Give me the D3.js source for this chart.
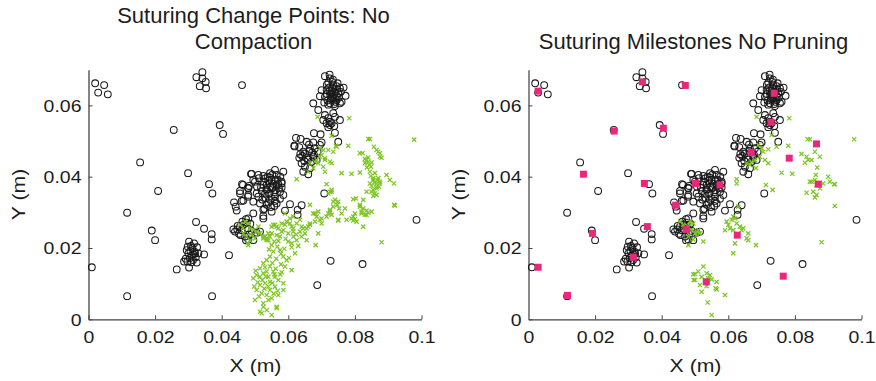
<!DOCTYPE html>
<html>
<head>
<meta charset="utf-8">
<script src="https://cdn.jsdelivr.net/npm/d3@7"></script>
<style>
  body { margin: 0; background: #fff; }
  svg { display: block; }
</style>
</head>
<body>
<svg id="chart" width="876" height="381"></svg>
<script>
// values in millimetres, plotted in metres
const xTicks = [0, 0.02, 0.04, 0.06, 0.08, 0.1];
const xTickLabels = ["0", "0.02", "0.04", "0.06", "0.08", "0.1"];
const yTicks = [0, 0.02, 0.04, 0.06];
const yTickLabels = ["0", "0.02", "0.04", "0.06"];

const leftTitle = ["Suturing Change Points: No", "Compaction"];
const rightTitle = ["Suturing Milestones No Pruning"];

// black circles (same in both panels)
const circlePts = [
  [2.0,66.2],[4.7,65.7],[2.9,63.6],[5.8,63.1],
  [34.2,69.3],[32.4,67.9],[34.2,67.6],[35.2,66.6],[33.4,65.4],[35.3,64.8],
  [46.1,65.7],[25.6,53.1],[39.4,54.5],[40.4,52.0],[15.5,44.0],[29.9,41.0],[36.2,37.9],[20.9,36.0],[37.2,35.3],
  [11.6,29.9],[19.0,24.9],[20.0,22.2],[32.3,27.3],[34.7,25.4],[37.0,23.9],[37.0,22.4],[34.7,18.2],[42.2,18.0],
  [1.0,14.6],[11.6,6.5],[37.1,6.5],[70.8,35.3],[98.5,27.9],[72.7,16.4],[82.3,15.5],[68.7,9.6],
  [60.5,32.3],[64.0,32.0],[59.0,30.5],[62.8,30.7],[62.8,29.3],
  [43.7,32.8],[44.2,31.6],[44.5,30.5],[46.0,33.2],[47.9,34.4],[45.5,36.0],[46.1,37.9],[47.9,36.9],[48.8,40.8],
  // cluster near (0.031, 0.018)
  [30.2,21.8],[31.7,21.3],[29.8,20.4],[31.2,20.0],[30.6,19.2],[31.8,19.0],[30.0,18.5],[32.0,18.5],[33.0,18.5],
  [31.0,17.8],[30.4,17.2],[32.2,17.4],[29.2,17.0],[31.4,16.6],[28.7,16.2],[29.7,16.2],[32.5,15.9],[30.9,16.0],
  [30.2,14.5],[26.5,14.0],[31.5,18.2],[30.8,20.6],[32.6,20.2],[29.5,19.4],
  // cluster near (0.047, 0.025)
  [43.5,25.2],[44.7,25.2],[44.0,24.6],[45.5,26.0],[46.5,26.5],[47.5,27.1],[48.0,28.3],[47.3,28.1],[45.7,23.6],
  [47.0,23.2],[48.0,22.4],[49.5,22.2],[47.3,22.2],[50.5,24.3],[51.5,24.6],[49.5,29.7],[52.5,28.3],[44.8,26.2],
  [46.0,25.0],[47.8,25.5],[48.6,26.8],[46.2,27.4],[49.0,24.8],[45.2,24.0],[48.2,23.8],
  // cluster near (0.054, 0.036)
  [49.0,40.8],[51.0,40.5],[52.5,40.2],[54.5,41.0],[56.0,41.9],[58.5,41.4],[56.5,40.5],[55.0,39.1],[58.0,38.6],
  [49.5,39.1],[46.4,37.7],[48.2,37.4],[52.5,38.6],[53.5,37.7],[50.0,38.6],[52.5,37.7],[50.5,35.3],[53.5,36.3],
  [55.0,36.7],[56.5,37.7],[58.0,38.1],[51.5,32.5],[52.5,30.7],[55.0,30.2],[49.5,33.0],[51.0,34.4],[54.5,33.5],
  [56.0,34.4],[57.5,35.8],[58.5,34.9],[56.5,32.5],[53.5,32.1],[48.0,34.9],[45.5,35.3],[46.5,33.3],[48.0,36.7],
  [52.5,29.0],[53.0,39.5],[54.0,38.8],[55.5,38.0],[56.8,39.2],[57.2,36.8],[54.2,35.2],[55.8,35.6],[53.2,34.0],
  [52.0,36.0],[56.0,33.2],[57.5,33.8],[54.8,31.5],[52.8,31.0],[51.8,37.0],[54.6,37.2],[56.2,36.2],[58.0,37.0],
  [53.8,40.0],[55.2,40.6],[57.6,40.0],[50.6,37.2],[51.2,39.6],[55.0,34.0],[53.5,36.5],
  [54.4,39.8],[56.2,39.0],[55.4,37.0],[57.0,38.0],[53.0,35.2],[54.0,32.8],[55.8,31.8],[52.2,33.6],
  // cluster near (0.066, 0.047)
  [62.3,50.9],[63.7,50.6],[67.7,52.2],[69.7,51.9],[61.8,48.7],[63.3,48.3],[67.5,49.6],[69.5,48.9],[64.5,47.0],
  [66.3,47.2],[63.3,45.3],[65.7,45.2],[67.7,46.1],[64.0,43.8],[65.0,42.8],[64.5,41.4],[66.0,40.7],[67.0,44.2],
  [68.5,44.7],[61.9,48.5],[65.5,49.8],[66.2,49.0],[68.0,48.0],[66.5,47.8],[67.2,46.8],[64.2,45.8],[65.0,46.5],
  [66.0,44.8],[68.8,47.0],[64.8,44.4],[66.5,42.4],[67.5,45.5],[63.6,46.3],[70.0,49.6],
  // chain near (0.072, 0.055)
  [67.5,60.6],[69.0,58.7],[71.0,57.3],[72.0,56.4],[73.5,57.8],[74.0,56.8],[70.5,55.9],[72.5,55.4],[72.5,54.5],
  [72.0,53.9],[74.0,52.3],[75.5,55.9],[75.0,49.8],[73.0,55.0],[71.5,55.0],[73.8,54.2],
  // cluster near (0.073, 0.063)
  [71.0,68.2],[72.5,67.6],[72.0,66.4],[73.5,65.7],[74.5,65.4],[75.5,64.8],[69.5,62.6],[71.0,62.4],[73.5,62.0],
  [74.5,61.5],[76.0,61.0],[77.2,62.7],[70.0,64.3],[71.5,64.3],[73.0,63.4],[75.0,63.4],[72.5,60.6],[74.0,59.8],
  [75.5,60.6],[72.2,65.0],[73.0,64.2],[74.0,64.6],[72.6,63.0],[73.6,63.0],[74.6,62.6],[71.6,63.2],[72.8,61.8],
  [71.8,61.4],[74.2,61.0],[75.2,62.2],[73.2,66.6],[71.6,65.8],[74.8,66.2],[73.8,60.4],[72.0,60.2],[75.8,63.8],
  [70.8,60.8],[76.6,65.0],[73.4,67.2],[72.4,68.6],[73.2,64.8],[74.2,63.8],[72.4,64.0],[73.0,62.4],[74.0,62.2]
];

// green crosses, left panel
const changeGreen = [
  [68.8,56.8],[78.3,56.4],[73.0,51.5],[78.0,48.7],[74.3,48.7],[84.0,50.6],[84.5,50.6],[97.8,50.4],[85.7,48.4],
  [86.5,47.5],[87.5,46.6],[81.5,46.6],[82.3,46.6],[88.0,45.3],[83.5,44.7],[84.0,44.2],[83.0,43.8],[84.3,43.3],
  [69.5,48.0],[70.5,47.4],[72.0,47.5],[70.0,46.1],[71.0,45.2],[72.5,44.2],[73.0,43.8],[66.5,43.8],[68.0,44.2],
  [68.5,44.7],[70.5,42.8],[71.0,41.4],[66.0,41.4],[62.5,39.3],[76.0,41.0],[79.0,40.8],[81.5,41.2],[84.5,41.4],
  [86.0,41.0],[87.0,39.6],[85.5,39.1],[84.5,38.1],[86.5,38.1],[87.5,38.6],[89.5,40.5],[90.5,39.1],[91.7,38.1],
  [86.5,36.7],[83.5,35.8],[85.0,35.8],[86.0,35.3],[71.5,37.9],[73.0,36.3],[72.5,35.8],
  [87.0,47.0],[87.5,45.6],[69.5,45.6],[71.0,44.7],[69.0,43.8],[67.5,42.4],[73.5,47.0],[74.5,48.4],[85.5,39.6],
  [84.0,45.4],[83.0,45.0],[85.0,44.0],[83.6,42.6],[84.8,42.8],[85.0,37.4],[86.8,39.0],[85.8,38.4],[84.8,40.2],
  [87.2,37.2],
  [85.5,34.6],[86.5,34.9],[80.3,33.9],[79.5,33.7],[92.0,31.9],[73.5,33.0],[74.7,32.1],[75.3,31.1],[72.5,30.7],
  [72.0,29.7],[73.0,29.3],[75.0,27.7],[81.5,32.1],[82.5,31.1],[82.0,29.7],[83.0,29.3],[84.0,29.9],[83.5,30.5],
  [79.0,28.3],[80.0,28.1],[80.5,27.4],[79.5,27.7],[82.5,26.0],[88.0,21.6],
  [66.5,32.1],[68.0,29.7],[68.5,28.8],[69.5,27.9],[70.0,26.9],[66.5,26.9],[66.0,26.0],[64.5,25.5],[63.5,24.6],
  [65.0,24.1],[64.0,23.2],[65.5,22.2],[69.0,24.1],[68.2,20.8],
  [60.5,26.9],[61.0,26.0],[59.0,26.5],[61.5,24.6],[61.5,23.2],[61.0,21.3],[62.5,22.2],[62.0,18.5],
  [56.0,26.5],[57.0,25.5],[58.0,24.6],[55.0,24.1],[56.5,23.6],[57.5,23.2],[53.0,23.2],[53.5,22.2],[52.5,22.7],
  [54.0,24.1],[55.0,26.0],
  [56.7,20.4],[57.5,19.4],[55.5,19.0],[58.5,17.6],[59.5,16.6],[59.0,14.8],[61.0,13.8],[54.5,17.6],[53.5,16.6],
  [52.5,15.7],[51.5,14.3],[54.5,14.8],[53.5,13.4],[55.5,13.4],[52.5,12.9],[50.5,12.4],[49.5,11.5],[51.5,11.9],
  [54.0,11.9],[56.0,11.9],[57.0,11.0],[58.5,10.1],[53.0,10.1],[54.5,10.5],[51.5,9.6],[56.0,9.1],[54.5,8.2],
  [58.5,8.2],[50.5,8.2],[52.0,7.3],[53.5,6.8],[57.0,6.8],[50.0,5.4],[52.5,4.5],[55.0,5.9],[56.5,3.5],
  [52.5,3.5],[52.0,1.7],[55.0,1.2],[54.0,5.4],[51.5,2.1],[56.5,3.1],[53.5,2.6],
  [55.2,15.8],[56.2,14.2],[57.8,15.4],[53.0,14.6],[55.8,12.6],[52.2,11.0],[50.8,10.4],[55.2,10.2],[57.6,12.6],
  [54.0,9.2],[52.8,8.6],[56.8,8.0],[51.2,6.4],[55.6,7.2],[53.2,12.0],[58.0,13.2],[50.2,13.6],[56.4,17.0],
  [57.8,18.4],[55.0,20.8],[58.8,19.8],[60.2,17.2],[54.2,19.6],[49.8,9.2],
  [45.5,26.5],[47.0,27.4],[48.0,26.9],[48.5,25.5],[49.5,25.0],[46.5,24.1],[47.5,23.2],[49.0,23.6],[48.0,20.8],
  [50.0,22.7],[50.5,24.6],[51.5,24.1],[51.0,26.0],[47.8,21.4],[48.6,22.0],[46.4,25.6],
  [52.5,23.2],[53.5,22.7],[54.5,23.2],[54.0,22.2],[55.5,26.5],[56.5,26.0],[58.0,26.9],[59.5,27.4],[59.0,29.7],
  [60.5,28.3],[61.5,28.8],[58.5,25.0],[60.0,24.1],[61.5,25.5],[62.5,26.9],[63.5,27.9],[64.0,26.0],[65.5,25.5],
  [66.5,26.5],[68.0,27.4],[67.5,29.7],[69.0,30.2],[70.0,28.3],[71.5,28.8],[72.5,30.2],[73.5,31.6],[74.0,33.5],
  [75.0,33.0],[72.0,35.3],[73.0,35.8],[77.5,27.9],[79.5,28.8],[80.0,29.7],[81.5,31.6],[82.0,30.2],[83.5,29.3],
  [85.0,30.2],[82.5,33.5],[85.5,36.3],[86.5,37.2],[87.5,38.1],[91.8,32.1],[77.0,31.1],[75.0,27.9],[76.0,29.7],
  [61.0,20.2],[60.0,21.8],[57.0,22.0],[59.2,22.6],[63.0,20.6],[62.4,23.8],[55.8,21.8]
];

// green crosses, right panel
const milestoneGreen = [
  [68.5,56.8],[78.3,56.4],[97.8,50.5],[73.0,51.7],[72.0,47.7],[74.5,48.4],[78.0,48.7],[76.0,41.1],[79.2,40.8],
  [83.8,50.5],[84.5,50.5],[82.0,46.4],[83.5,45.6],[84.0,44.7],[83.0,43.9],[85.0,44.7],[86.0,47.0],[87.5,45.6],
  [86.7,42.6],[86.3,40.5],[84.5,38.6],[86.0,39.1],[87.5,38.3],[90.0,40.0],[91.8,37.9],[86.5,37.7],[62.5,39.3],
  [65.5,43.8],[67.0,44.2],[68.0,44.7],[69.5,45.6],[70.0,48.0],[71.0,44.7],[72.0,43.8],[68.3,42.4],[66.5,43.3],
  [69.0,48.9],[70.5,47.0],[71.3,37.7],
  [85.0,38.6],[87.5,36.7],[85.5,35.8],[83.5,35.5],[86.5,34.9],[86.0,34.2],[88.5,38.1],[90.5,38.6],[92.0,37.9],
  [73.3,36.3],[92.0,31.8],[88.0,21.6],[62.5,38.1],
  [63.0,31.6],[61.5,28.8],[59.5,27.4],[60.0,26.5],[61.0,27.9],[62.0,28.3],[62.5,26.9],[59.0,25.0],[60.5,25.5],
  [61.5,25.0],[63.5,26.0],[64.0,25.0],[64.5,25.5],[66.0,24.1],[65.5,22.7],[66.0,22.2],[68.3,20.8],[62.0,21.3],
  [61.5,18.5],
  [52.5,14.8],[51.0,13.4],[53.5,12.9],[50.0,12.7],[52.0,11.9],[53.0,11.0],[54.5,12.4],[54.0,11.5],[55.0,11.2],
  [56.5,10.5],[50.0,11.0],[51.5,9.6],[52.0,7.7],[53.5,9.3],[56.2,8.7],[56.5,8.4],[59.0,6.8],[53.8,4.7],
  [55.0,1.2],[49.5,12.6],[49.6,11.0],
  [45.5,27.4],[46.5,26.5],[48.0,26.0],[48.5,27.4],[49.5,26.9],[49.0,25.0],[50.0,24.1],[51.0,25.0],[48.0,23.2],
  [49.5,22.4],[52.5,21.8],[50.5,24.6],[51.5,24.1],[48.0,20.8]
];

// pink squares, right panel
const milestoneSquares = [
  [2.9,64.0],[34.2,66.6],[47.1,65.6],[25.7,52.8],[40.5,53.6],[16.5,40.7],[34.8,38.1],[50.2,38.1],[57.5,37.7],
  [66.9,46.8],[73.8,63.4],[72.8,55.3],[86.5,49.2],[78.3,45.2],[87.0,37.9],[44.2,32.0],[35.7,26.0],[19.2,24.1],
  [47.4,25.2],[31.5,17.4],[2.9,14.6],[11.7,6.7],[62.7,23.6],[53.4,10.5],[76.5,12.1]
];

const svg = d3.select("#chart");
const font = "'Liberation Sans', Arial, Helvetica, sans-serif";
const stretch = 1.18;
const ink = "#1c1c1c";

function drawPanel(x0, title, greens, squares, yAxisColor, yAxisWidth) {
  const x = d3.scaleLinear().domain([0, 0.1]).range([x0, x0 + 333]);
  const y = d3.scaleLinear().domain([0, 0.07]).range([319.3, 69.75]);
  const g = svg.append("g");

  // titles
  const tBase = title.length === 2 ? 23 : 49;
  title.forEach((t, i) => {
    g.append("text")
      .attr("x", x0 + 165).attr("y", tBase + i * 26)
      .attr("text-anchor", "middle")
      .attr("font-family", font).attr("font-size", 22)
      .attr("fill", ink)
      .text(t);
  });

  const xAxis = g.append("g")
    .attr("transform", "translate(0,319.3)")
    .call(d3.axisBottom(x).tickValues(xTicks)
      .tickFormat((d, i) => xTickLabels[i])
      .tickSizeInner(-4).tickSizeOuter(0));
  xAxis.select(".domain").attr("stroke", "#444").attr("stroke-width", 1.2);
  xAxis.selectAll(".tick line").attr("stroke", "#444");
  xAxis.selectAll(".tick text")
    .attr("x", 0).attr("y", 0).attr("dy", null)
    .attr("transform", `translate(0,24) scale(${stretch},1)`)
    .attr("font-family", font).attr("font-size", 16.5).attr("fill", ink);

  const yAxis = g.append("g")
    .attr("transform", `translate(${x0},0)`)
    .call(d3.axisLeft(y).tickValues(yTicks)
      .tickFormat((d, i) => yTickLabels[i])
      .tickSizeInner(-4).tickSizeOuter(0));
  yAxis.select(".domain").attr("stroke", yAxisColor).attr("stroke-width", yAxisWidth);
  yAxis.selectAll(".tick line").attr("stroke", "#444");
  yAxis.selectAll(".tick text")
    .attr("x", 0).attr("y", 0).attr("dy", "0.36em")
    .attr("transform", `translate(-7,0) scale(${stretch},1)`)
    .attr("font-family", font).attr("font-size", 16.5).attr("fill", ink);

  // axis labels
  g.append("text")
    .attr("transform", `translate(${x0 + 167},371.5) scale(${stretch},1)`)
    .attr("text-anchor", "middle")
    .attr("font-family", font).attr("font-size", 18).attr("fill", ink)
    .text("X (m)");
  g.append("text")
    .attr("transform", `translate(${x0 - 64},194.5) rotate(-90) scale(${stretch},1)`)
    .attr("text-anchor", "middle")
    .attr("font-family", font).attr("font-size", 18).attr("fill", ink)
    .text("Y (m)");

  const px = d => x(d[0] / 1000);
  const py = d => y(d[1] / 1000);

  g.append("g").selectAll("circle")
    .data(circlePts).join("circle")
    .attr("cx", px).attr("cy", py).attr("r", 3.4)
    .attr("fill", "none").attr("stroke", "#1a1a1a").attr("stroke-width", 1.05);

  const s = 2.1;
  g.append("g").selectAll("path")
    .data(greens).join("path")
    .attr("d", d => `M${px(d) - s},${py(d) - s}L${px(d) + s},${py(d) + s}M${px(d) - s},${py(d) + s}L${px(d) + s},${py(d) - s}`)
    .attr("stroke", "#7cc521").attr("stroke-width", 1.2).attr("fill", "none");

  if (squares) {
    g.append("g").selectAll("rect")
      .data(squares).join("rect")
      .attr("x", d => px(d) - 3.5).attr("y", d => py(d) - 3.5)
      .attr("width", 7).attr("height", 7)
      .attr("fill", "#e8297a");
  }
}

drawPanel(88.5, leftTitle, changeGreen, null, "#333", 1.2);
drawPanel(528.5, rightTitle, milestoneGreen, milestoneSquares, "#8a8a8a", 2);
</script>
</body>
</html>
